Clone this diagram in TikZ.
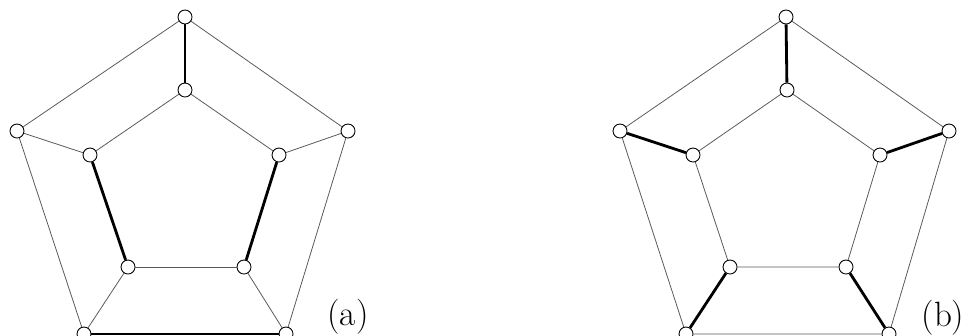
\documentclass[tikz,border=0pt]{standalone}
\usepackage{tikz}
\usetikzlibrary{positioning}

\begin{document}
\begin{tikzpicture}[x=0.02cm, y=-0.02cm,
  vtx/.style={draw, circle, fill=white, inner sep=0pt, minimum size=0.28cm, line width=0.5pt},
  edge/.style={black!65, line width=0.45pt},
  match/.style={black, line width=1.6pt}]
  \useasboundingbox (0,0) rectangle (963,335);

  % graph (a)
  \node[vtx] (ao1) at (185,17) {};
  \node[vtx] (ao2) at (348,131) {};
  \node[vtx] (ao3) at (286,334) {};
  \node[vtx] (ao4) at (84,334) {};
  \node[vtx] (ao5) at (17,131) {};
  \node[vtx] (ai1) at (185,90) {};
  \node[vtx] (ai2) at (279,155) {};
  \node[vtx] (ai3) at (244,267) {};
  \node[vtx] (ai4) at (128,267) {};
  \node[vtx] (ai5) at (90,155) {};
  \draw[edge] (ao1) -- (ao2) -- (ao3);
  \draw[edge] (ao4) -- (ao5) -- (ao1);
  \draw[match] (ao3) -- (ao4);
  \draw[edge] (ai5) -- (ai1) -- (ai2);
  \draw[edge] (ai3) -- (ai4);
  \draw[match] (ai2) -- (ai3);
  \draw[match] (ai4) -- (ai5);
  \draw[match] (ao1) -- (ai1);
  \draw[edge] (ao2) -- (ai2);
  \draw[edge] (ao3) -- (ai3);
  \draw[edge] (ao4) -- (ai4);
  \draw[edge] (ao5) -- (ai5);
  \node (la) at (348,317) {\fontsize{20}{24}\selectfont (a)};

  % graph (b)
  \node[vtx] (bo1) at (786,17) {};
  \node[vtx] (bo2) at (949,131) {};
  \node[vtx] (bo3) at (889,334) {};
  \node[vtx] (bo4) at (686,334) {};
  \node[vtx] (bo5) at (620,131) {};
  \node[vtx] (bi1) at (787,90) {};
  \node[vtx] (bi2) at (880,155) {};
  \node[vtx] (bi3) at (846,267) {};
  \node[vtx] (bi4) at (730,267) {};
  \node[vtx] (bi5) at (693,155) {};
  \draw[edge] (bo1) -- (bo2) -- (bo3) -- (bo4) -- (bo5) -- (bo1);
  \draw[edge] (bi1) -- (bi2) -- (bi3) -- (bi4) -- (bi5) -- (bi1);
  \draw[match] (bo1) -- (bi1);
  \draw[match] (bo2) -- (bi2);
  \draw[match] (bo3) -- (bi3);
  \draw[match] (bo4) -- (bi4);
  \draw[match] (bo5) -- (bi5);
  \node (lb) at (943,318) {\fontsize{20}{24}\selectfont (b)};
\end{tikzpicture}
\end{document}
